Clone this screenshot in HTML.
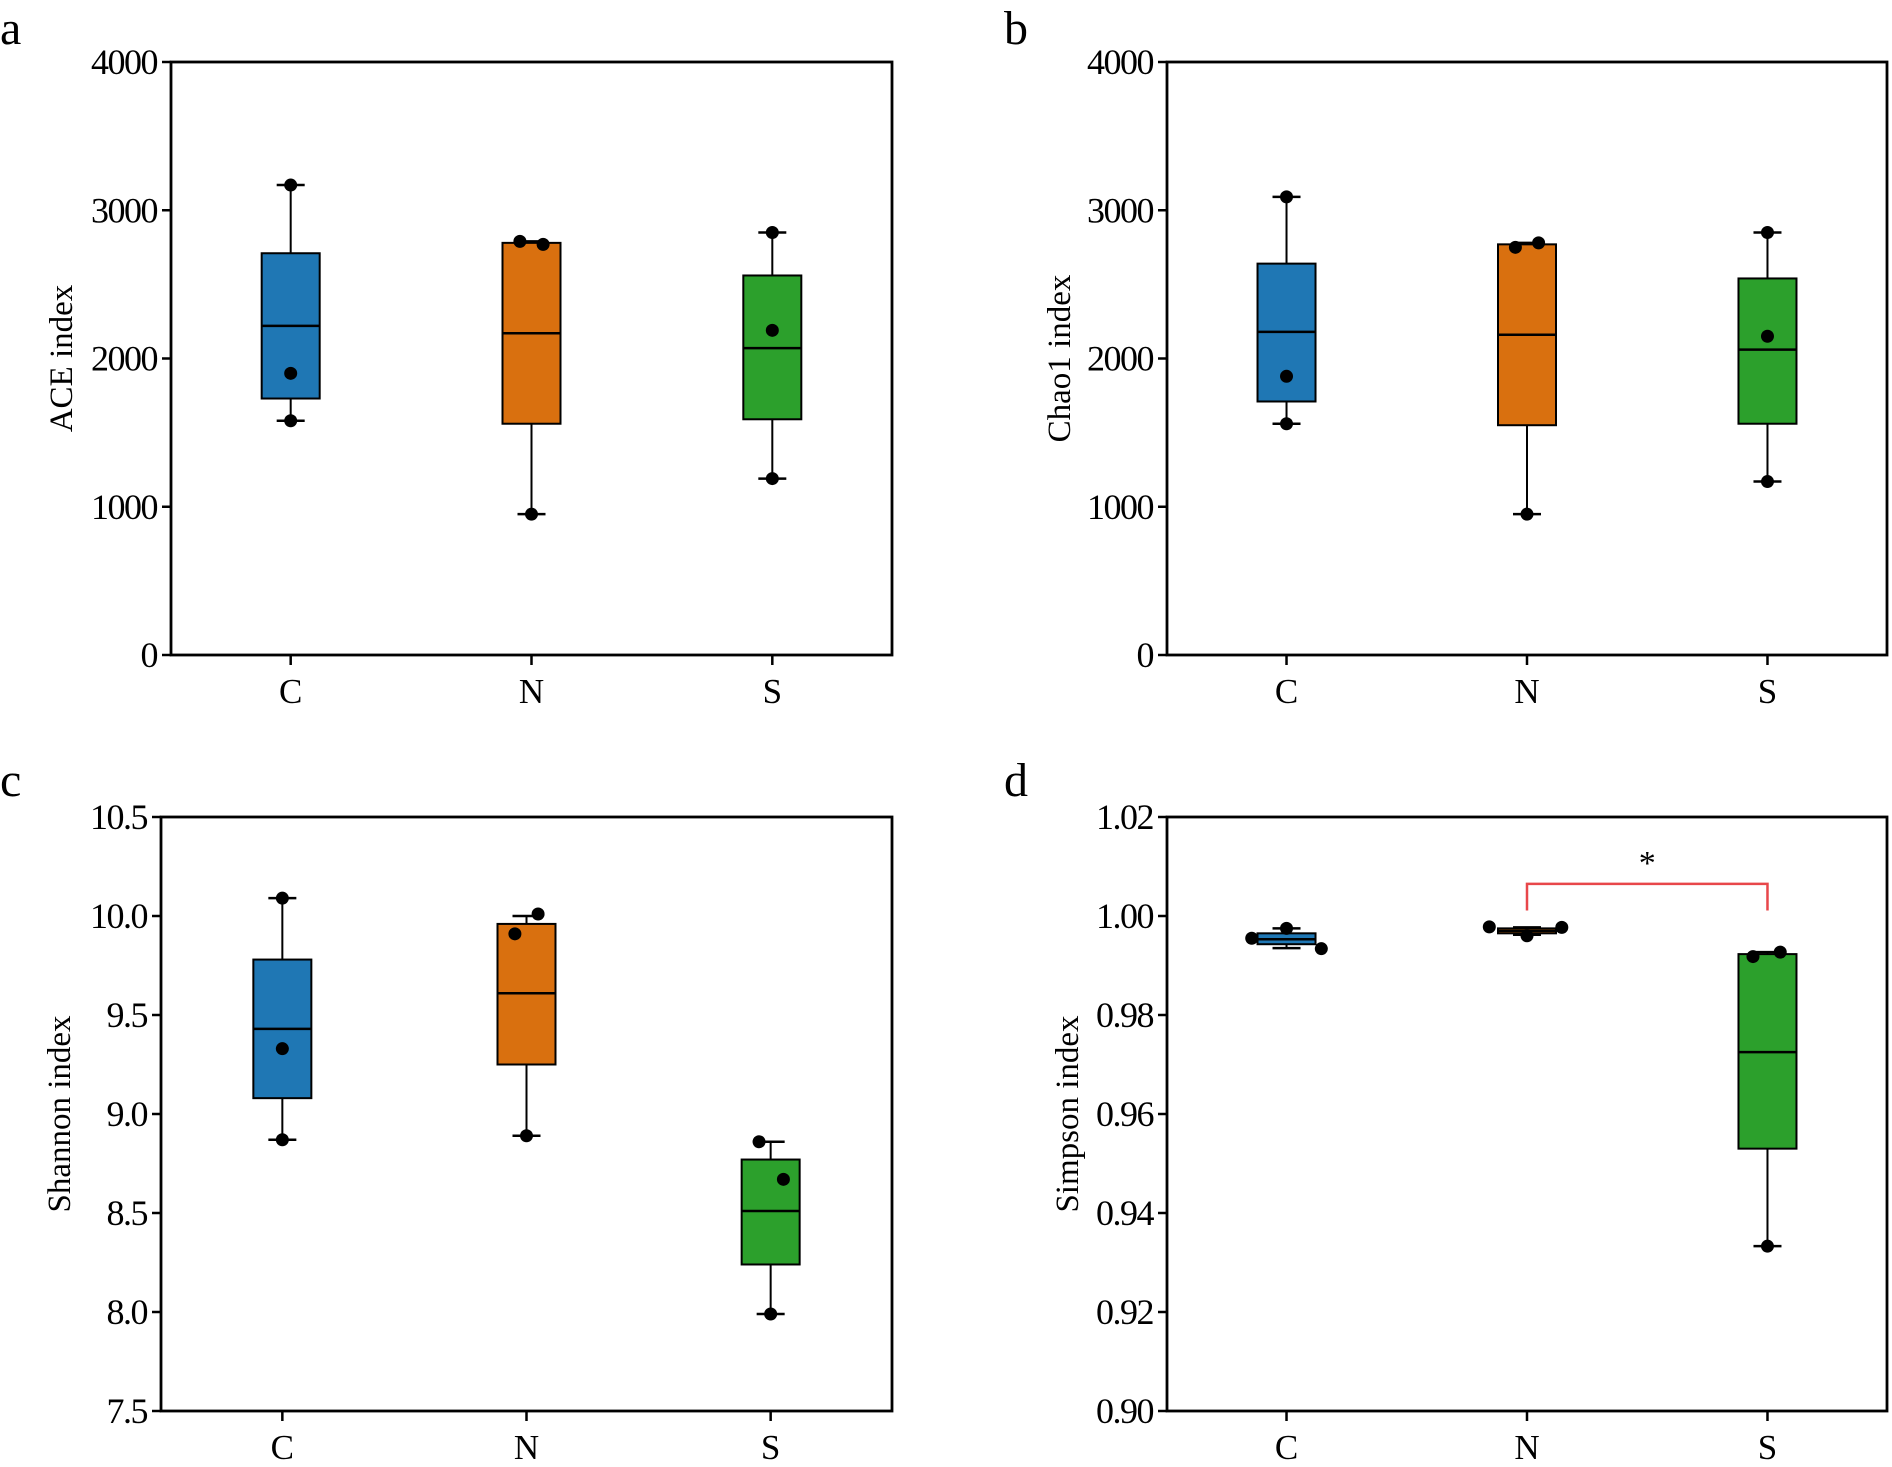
<!DOCTYPE html>
<html><head><meta charset="utf-8"><style>
html,body{margin:0;padding:0;background:#fff}
svg{display:block}
text{font-family:"Liberation Serif",serif;fill:#000}
</style></head><body>
<svg id="fig" width="1892" height="1467" viewBox="0 0 1892 1467" xmlns="http://www.w3.org/2000/svg"></svg>
<script>
const categories = ["C","N","S"];
const colors = ["#1f77b4","#d9700f","#2ca02c"];
// ACE
const aceBox = [[1730,2220,2710],[1560,2170,2780],[1590,2070,2560]];
const aceWhisk = [[1580,3170],[950,2790],[1190,2850]];
const acePts = [[3170,1900,1580],[2790,2770,950],[2850,2190,1190]];
const aceJit = [[0,0,0],[-0.2,0.2,0],[0,0,0]];
const aceTicks = [0,1000,2000,3000,4000];
// Chao1
const chaoBox = [[1710,2180,2640],[1550,2160,2770],[1560,2060,2540]];
const chaoWhisk = [[1560,3090],[950,2780],[1170,2850]];
const chaoPts = [[3090,1880,1560],[2750,2780,950],[2850,2150,1170]];
const chaoJit = [[0,0,0],[-0.2,0.2,0],[0,0,0]];
const chaoTicks = [0,1000,2000,3000,4000];
// Shannon
const shBox = [[9.08,9.43,9.78],[9.25,9.61,9.96],[8.24,8.51,8.77]];
const shWhisk = [[8.87,10.09],[8.89,10.0],[7.99,8.86]];
const shPts = [[10.09,9.33,8.87],[9.91,10.01,8.89],[8.86,8.67,7.99]];
const shJit = [[0,0,0],[-0.2,0.2,0],[-0.2,0.22,0]];
const shTicks = [7.5,8.0,8.5,9.0,9.5,10.0,10.5];
// Simpson
const siBox = [[0.9943,0.9953,0.9965],[0.9965,0.9970,0.9975],[0.9530,0.9725,0.9923]];
const siWhisk = [[0.9935,0.9975],[0.9962,0.9977],[0.9333,0.9927]];
const siPts = [[0.9975,0.9955,0.9934],[0.9978,0.9960,0.9977],[0.9918,0.9927,0.9333]];
const siJit = [[0,-0.6,0.6],[-0.65,0,0.6],[-0.25,0.22,0]];
const siTicks = [0.90,0.92,0.94,0.96,0.98,1.00,1.02];

const NS="http://www.w3.org/2000/svg";
const svg=document.getElementById('fig');
function mk(tag,attrs,parent,txt){const e=document.createElementNS(NS,tag);for(const k in attrs)e.setAttribute(k,attrs[k]);if(txt!==undefined)e.textContent=txt;(parent||svg).appendChild(e);return e;}

function panel(o){
  const g=mk('g',{});
  
  
  const L=o.left,R=o.right,T=o.top,B=o.bottom;
  const y=v=>B-(v-o.min)/(o.max-o.min)*(B-T);
  const x=i=>L+(R-L)*(0.166+i*0.334);
  const bw=58;
  const lt=mk('text',{x:o.lx,y:o.ly,'font-size':48},g,o.letter);
  
  
  o.ticks.forEach(t=>{
    mk('line',{x1:L-9,x2:L,y1:y(t),y2:y(t),stroke:'#000','stroke-width':2.5},g);
    const tx=mk('text',{x:L-14,y:y(t)+12,'font-size':36,'text-anchor':'end','letter-spacing':-1.5},g,o.fmt(t));
    
    
  });
  const yt=mk('text',{transform:`translate(${o.ytx},${(T+B)/2}) rotate(-90)`,'font-size':33,'text-anchor':'middle'},g,o.ytitle);
  
  
  categories.forEach((c,i)=>{
    const cx=x(i);
    mk('line',{x1:cx,x2:cx,y1:B,y2:B+10,stroke:'#000','stroke-width':2.5},g);
    const ct=mk('text',{x:cx,y:B+48,'font-size':35,'text-anchor':'middle'},g,c);
    
    
    const [q1,med,q3]=o.box[i];const [lo,hi]=o.whisk[i];
    mk('line',{x1:cx,x2:cx,y1:y(hi),y2:y(q3),stroke:'#000','stroke-width':2},g);
    mk('line',{x1:cx,x2:cx,y1:y(q1),y2:y(lo),stroke:'#000','stroke-width':2},g);
    mk('line',{x1:cx-14,x2:cx+14,y1:y(hi),y2:y(hi),stroke:'#000','stroke-width':2.5},g);
    mk('line',{x1:cx-14,x2:cx+14,y1:y(lo),y2:y(lo),stroke:'#000','stroke-width':2.5},g);
    const r=mk('rect',{x:cx-bw/2,y:y(q3),width:bw,height:Math.max(1,y(q1)-y(q3)),fill:colors[i],stroke:'#000','stroke-width':2},g);
    
    
    mk('line',{x1:cx-bw/2,x2:cx+bw/2,y1:y(med),y2:y(med),stroke:'#000','stroke-width':2.5},g);
    o.pts[i].forEach((p,j)=>{
      const d=mk('circle',{cx:cx+o.jit[i][j]*bw,cy:y(p),r:6.5,fill:'#000'},g);
      
      
    });
  });
  const fr=mk('rect',{x:L,y:T,width:R-L,height:B-T,fill:'none',stroke:'#000','stroke-width':2.8},g);
  
  
  if(o.sig){
    const x1=x(1),x2=x(2),yb=y(1.0065),ye=y(1.0011);
    const br=mk('polyline',{points:`${x1},${ye} ${x1},${yb} ${x2},${yb} ${x2},${ye}`,fill:'none',stroke:'#e8474a','stroke-width':2.5},g);
    
    
    const st=mk('text',{x:(x1+x2)/2,y:yb-10,'font-size':34,'text-anchor':'middle'},g,'*');
    
    
  }
}
const f0=v=>String(v);
const f1=v=>v.toFixed(1);
const f2=v=>v.toFixed(2);
panel({name:'ace',letter:'a',lx:0,ly:44,left:171,right:892,top:62,bottom:655,min:0,max:4000,ticks:aceTicks,fmt:f0,ytitle:'ACE index',ytx:72,box:aceBox,whisk:aceWhisk,pts:acePts,jit:aceJit});
panel({name:'chao1',letter:'b',lx:1004,ly:44,left:1167,right:1887,top:62,bottom:655,min:0,max:4000,ticks:chaoTicks,fmt:f0,ytitle:'Chao1 index',ytx:1070,box:chaoBox,whisk:chaoWhisk,pts:chaoPts,jit:chaoJit});
panel({name:'shannon',letter:'c',lx:0,ly:796,left:161,right:892,top:817,bottom:1411,min:7.5,max:10.5,ticks:shTicks,fmt:f1,ytitle:'Shannon index',ytx:70,box:shBox,whisk:shWhisk,pts:shPts,jit:shJit});
panel({name:'simpson',letter:'d',lx:1004,ly:796,left:1167,right:1887,top:817,bottom:1411,min:0.90,max:1.02,ticks:siTicks,fmt:f2,ytitle:'Simpson index',ytx:1078,box:siBox,whisk:siWhisk,pts:siPts,jit:siJit,sig:true});
</script>
</body></html>
